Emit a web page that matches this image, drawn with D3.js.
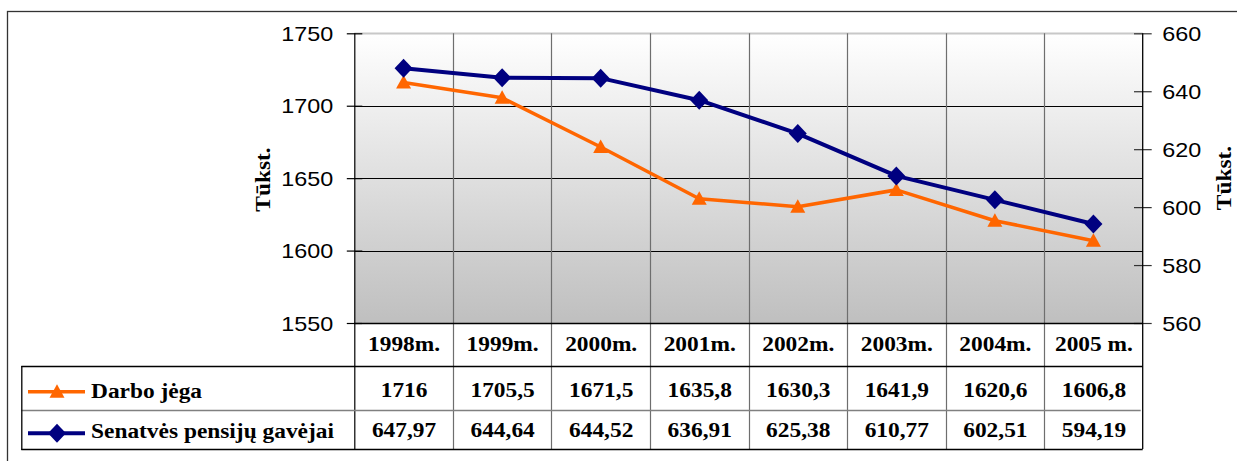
<!DOCTYPE html>
<html><head><meta charset="utf-8">
<script src="https://cdn.jsdelivr.net/npm/d3@7"></script>
<style>
html,body{margin:0;padding:0;background:#fff;}
svg{display:block;}
</style></head>
<body>
<svg id="chart" width="1237" height="461"></svg>
<script>
const categories = ["1998m.","1999m.","2000m.","2001m.","2002m.","2003m.","2004m.","2005 m."];
const darboJega = [1716,1705.5,1671.5,1635.8,1630.3,1641.9,1620.6,1606.8];
const pensijuGavejai = [647.97,644.64,644.52,636.91,625.38,610.77,602.51,594.19];
const leftTicks = [1550,1600,1650,1700,1750];
const rightTicks = [560,580,600,620,640,660];
const seriesNames = ["Darbo jėga","Senatvės pensijų gavėjai"];
const axisTitle = "Tūkst.";

const svg = d3.select("#chart");
const L = 354.3, R = 1142.7, T = 33.3, B = 323;
const rowTop1 = 366, rowTop2 = 410, tableBottom = 449, tableLeft = 21.3;
const SX = 1.17;

const x = d3.scaleBand().domain(categories).range([L, R]).padding(0);
const yL = d3.scaleLinear().domain([1550,1750]).range([B, T]);
const yR = d3.scaleLinear().domain([560,660]).range([B, T]);

const serif = "'Liberation Serif','Times New Roman',serif";
const sans = "'Liberation Sans',Arial,sans-serif";

function stext(parent, tx, ty, txt, anchor, rot){
  return parent.append("text")
    .attr("transform",`translate(${tx},${ty})${rot?` rotate(${rot})`:""} scale(${SX},1)`)
    .attr("text-anchor",anchor||"middle")
    .attr("font-family",serif).attr("font-weight","bold").attr("font-size",20).attr("fill","#000")
    .text(txt);
}

// outer border
svg.append("rect").attr("x",7.5).attr("y",11.5).attr("width",1240).attr("height",460)
  .attr("fill","none").attr("stroke","#333").attr("stroke-width",1.3);

// gradient background
const defs = svg.append("defs");
const g = defs.append("linearGradient").attr("id","bg").attr("x1",0).attr("y1",0).attr("x2",0).attr("y2",1);
g.append("stop").attr("offset","0%").attr("stop-color","#ffffff");
g.append("stop").attr("offset","100%").attr("stop-color","#bfbfbf");
svg.append("rect").attr("x",L).attr("y",T).attr("width",R-L).attr("height",B-T).attr("fill","url(#bg)");

// horizontal gridlines
svg.append("g").selectAll("line").data(leftTicks.filter(d=>d!==1550)).join("line")
  .attr("x1",L).attr("x2",R).attr("y1",d=>Math.round(yL(d))+0.5).attr("y2",d=>Math.round(yL(d))+0.5)
  .attr("stroke",d=>d===1750?"#c8c8c8":"#000").attr("stroke-width",d=>d===1750?2:1);

// vertical gridlines (category boundaries) through plot and table
const bounds = categories.map(c=>x(c)).concat([R]);
svg.append("g").selectAll("line").data(bounds.slice(1,-1)).join("line")
  .attr("x1",d=>Math.round(d)+0.5).attr("x2",d=>Math.round(d)+0.5).attr("y1",T).attr("y2",tableBottom)
  .attr("stroke","#6e6e6e").attr("stroke-width",1.2);

// left axis
const axL = svg.append("g").attr("transform",`translate(${L},0)`)
  .call(d3.axisLeft(yL).tickValues(leftTicks).tickFormat(d3.format("d")).tickSize(0));
axL.select(".domain").remove();
axL.append("line").attr("x1",0.5).attr("x2",0.5).attr("y1",T).attr("y2",tableBottom).attr("stroke","#000").attr("stroke-width",1.2);
axL.selectAll(".tick").append("line").attr("x1",-7.5).attr("x2",8).attr("stroke","#000").attr("stroke-width",1.2);
axL.selectAll(".tick text").attr("x",null).attr("dy",null).attr("y",7)
  .attr("transform",`translate(-21,0) scale(1.17,1)`).attr("text-anchor","end")
  .attr("font-family",sans).attr("font-size",20).attr("fill","#000");

// right axis
const axR = svg.append("g").attr("transform",`translate(${R},0)`)
  .call(d3.axisRight(yR).tickValues(rightTicks).tickFormat(d3.format("d")).tickSize(0));
axR.select(".domain").remove();
axR.append("line").attr("x1",0).attr("x2",0).attr("y1",T).attr("y2",tableBottom).attr("stroke","#000").attr("stroke-width",1.3);
axR.selectAll(".tick").append("line").attr("x1",-8.7).attr("x2",9).attr("stroke","#333").attr("stroke-width",1.2);
axR.selectAll(".tick text").attr("x",null).attr("dy",null).attr("y",7)
  .attr("transform",`translate(19.6,0) scale(1.17,1)`).attr("text-anchor","start")
  .attr("font-family",sans).attr("font-size",20).attr("fill","#000");

// bottom axis line
svg.append("line").attr("x1",L).attr("x2",R).attr("y1",B+0.5).attr("y2",B+0.5).attr("stroke","#000").attr("stroke-width",1.3);

// axis titles
stext(svg, 270, 179.5, axisTitle, "middle", -90);
stext(svg, 1231, 178, axisTitle, "middle", -90);

// table lines
svg.append("line").attr("x1",tableLeft).attr("x2",R).attr("y1",rowTop1+0.5).attr("y2",rowTop1+0.5).attr("stroke","#000").attr("stroke-width",1.3);
svg.append("line").attr("x1",tableLeft).attr("x2",R-2).attr("y1",rowTop2+0.5).attr("y2",rowTop2+0.5).attr("stroke","#808080").attr("stroke-width",1.3);
svg.append("line").attr("x1",tableLeft).attr("x2",R).attr("y1",tableBottom+0.5).attr("y2",tableBottom+0.5).attr("stroke","#000").attr("stroke-width",1.3);
svg.append("line").attr("x1",tableLeft+0.5).attr("x2",tableLeft+0.5).attr("y1",rowTop1).attr("y2",tableBottom+1).attr("stroke","#000").attr("stroke-width",1.3);

// category labels
const cx = c => x(c) + x.bandwidth()/2;
const catG = svg.append("g");
categories.forEach(c=>stext(catG, cx(c)+0.5, 350.7, c, "middle"));

const fmt = v => String(v).replace(".",",");
const series = [
  {name:seriesNames[0], values:darboJega, y:yL, color:"#ff6600", marker:"triangle", textY:396.7, lineY:391.7, width:3.6},
  {name:seriesNames[1], values:pensijuGavejai, y:yR, color:"#000080", marker:"diamond", textY:437.3, lineY:433.3, width:4}
];

function markerPath(type){
  if(type==="triangle") return "M0,-7.5L7.5,6L-7.5,6Z";
  return "M0,-9.5L9,0L0,9.5L-9,0Z";
}

series.forEach(s=>{
  // values row
  const vg = svg.append("g");
  s.values.forEach((v,i)=>stext(vg, cx(categories[i])+0.5, s.textY, fmt(v), "middle"));
  // line
  const line = d3.line().x((v,i)=>cx(categories[i])).y(v=>s.y(v));
  svg.append("path").datum(s.values).attr("d",line).attr("fill","none")
    .attr("stroke",s.color).attr("stroke-width",s.width).attr("stroke-linejoin","round");
  svg.append("g").selectAll("path").data(s.values).join("path")
    .attr("transform",(v,i)=>`translate(${cx(categories[i])},${s.y(v)})`)
    .attr("d",markerPath(s.marker)).attr("fill",s.color);
  // legend
  svg.append("line").attr("x1",28).attr("x2",85).attr("y1",s.lineY).attr("y2",s.lineY)
    .attr("stroke",s.color).attr("stroke-width",s.width);
  svg.append("path").attr("transform",`translate(57,${s.lineY})`).attr("d",markerPath(s.marker)).attr("fill",s.color);
  stext(svg, 91, s.textY+1, s.name, "start");
});
</script>
</body></html>
